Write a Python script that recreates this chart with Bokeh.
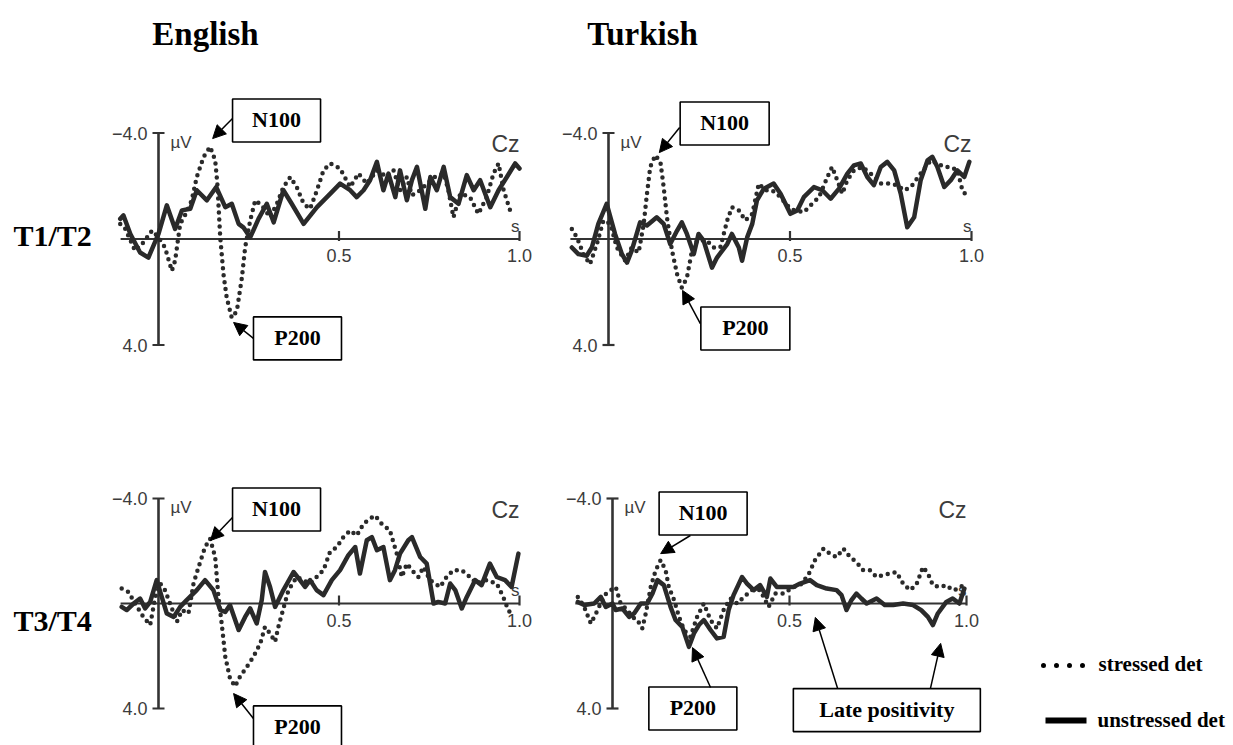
from bokeh.plotting import figure
from bokeh.models import Range1d, Arrow, NormalHead
from bokeh.core.properties import value
from bokeh.embed import file_html
from bokeh.resources import INLINE

# ---------------- data: time in ms, amplitude in microvolts (negative up) ----------------
en12_stressed_t = [-106, -92, -65, -42, -18, 0, 18, 37, 46, 60, 78, 92, 106, 125, 143, 157, 163, 171, 180, 189,
                   203, 217, 231, 240, 254, 268, 286, 309, 328, 346, 365, 383, 402, 420, 439, 457, 476, 503, 531, 554,
                   577, 605, 633, 651, 669, 688, 702, 725, 743, 766, 790, 803, 817, 836, 863, 886, 909, 928, 942, 956,
                   974, 988]
en12_stressed_v = [-0.57, -0.38, 0.44, 0.13, -0.32, -0.06, 0.32, 1.20, 0.82, -0.57, -1.01, -1.46, -2.34, -3.10, -3.48,
                   -2.97, -2.09, -0.06, 1.33, 2.22, 2.97, 2.72, 1.46, 0.32, -0.70, -1.46, -1.27, -0.82, -1.33, -1.96,
                   -2.34, -1.96, -1.33, -1.14, -1.84, -2.59, -2.85, -2.66, -1.96, -2.47, -2.09, -2.59, -2.34, -2.59,
                   -1.84, -2.34, -1.65, -1.84, -2.09, -2.34, -2.47, -1.84, -0.82, -1.71, -1.58, -0.95, -1.58, -2.47,
                   -2.85, -1.84, -1.08, -1.20]
en12_unstressed_t = [-106, -97, -78, -51, -28, 0, 23, 46, 65, 88, 106, 134, 160, 185, 203, 222, 235, 254, 277, 300,
                     319, 346, 369, 402, 439, 476, 503, 531, 549, 568, 586, 605, 623, 637, 656, 669, 688, 702, 716, 739,
                     753, 771, 790, 808, 831, 854, 873, 891, 919, 942, 965, 988, 1000]
en12_unstressed_v = [-0.76, -0.89, -0.19, 0.51, 0.70, -0.19, -1.27, -0.38, -1.08, -1.14, -1.84, -1.46, -1.96, -1.20,
                     -1.33, -0.57, -0.44, -0.06, -0.76, -1.33, -0.63, -1.84, -1.33, -0.57, -1.20, -1.71, -2.09, -1.84,
                     -1.58, -1.84, -2.22, -2.91, -1.84, -2.47, -1.58, -2.59, -1.46, -2.22, -2.72, -1.14, -2.34, -1.84,
                     -2.72, -1.58, -1.33, -2.41, -1.84, -2.22, -1.20, -1.84, -2.34, -2.85, -2.66]

tr12_stressed_t = [-101, -87, -69, -51, -32, -14, 5, 23, 46, 64, 83, 97, 106, 115, 129, 143, 152, 161, 175, 189,
                   202, 216, 230, 244, 271, 290, 308, 327, 340, 359, 377, 396, 414, 432, 451, 474, 492, 511, 538, 561,
                   580, 603, 616, 630, 644, 658, 676, 699, 722, 750, 777, 796, 814, 833, 860, 888, 906, 925, 943, 961,
                   975, 989]
tr12_stressed_v = [-0.38, -0.06, 0.57, 0.95, 0.19, -0.70, -0.57, 0.32, 0.82, 0.32, 0.51, -0.57, -1.71, -2.72, -3.16,
                   -2.91, -1.96, -0.82, 0.44, 1.33, 1.84, 1.46, 0.44, 0.06, 0.06, 0.32, 0.32, -0.70, -1.20, -1.08,
                   -0.70, -0.95, -2.09, -1.84, -1.84, -1.58, -1.27, -1.08, -1.01, -1.33, -1.58, -2.34, -2.72, -2.22,
                   -1.71, -2.22, -2.59, -2.72, -2.47, -2.09, -2.09, -2.03, -1.84, -1.96, -2.47, -2.97, -2.85, -2.72,
                   -2.72, -2.59, -1.84, -1.58]
tr12_unstressed_t = [-101, -83, -60, -46, -28, -5, 18, 37, 51, 64, 87, 106, 133, 152, 170, 189, 202, 216, 235, 248,
                     262, 285, 299, 327, 340, 359, 368, 382, 396, 409, 428, 455, 474, 501, 520, 538, 566, 589, 612, 635,
                     658, 676, 695, 713, 731, 750, 768, 787, 805, 823, 842, 860, 879, 892, 906, 925, 943, 961, 980, 994]
tr12_unstressed_v = [0.32, 0.57, 0.63, 0.32, -0.57, -1.33, -0.19, 0.57, 0.89, 0.44, -0.63, -0.51, -0.82, -0.57, 0.19,
                     -0.32, -0.63, -0.19, 0.57, -0.19, 0.06, 1.08, 0.70, 0.19, -0.19, 0.32, 0.82, -0.06, -0.57, -1.46,
                     -1.90, -2.09, -1.71, -0.95, -1.08, -1.58, -1.96, -1.84, -1.52, -1.90, -2.47, -2.78, -2.85, -2.34,
                     -2.03, -2.72, -2.91, -2.59, -1.71, -0.44, -0.82, -2.22, -2.97, -3.10, -2.72, -1.96, -2.22, -2.59,
                     -2.34, -2.91]

en34_stressed_t = [-102, -83, -65, -42, -23, -9, 5, 18, 32, 51, 65, 83, 97, 111, 129, 143, 157, 166, 175, 185,
                   198, 212, 226, 245, 263, 282, 295, 309, 323, 332, 346, 360, 383, 420, 457, 475, 494, 512, 531, 549,
                   568, 586, 600, 618, 641, 660, 674, 688, 702, 720, 734, 752, 780, 798, 817, 840, 863, 881, 909, 937,
                   955, 969, 983]
en34_stressed_v = [-0.57, -0.44, 0.0, 0.51, 0.82, -0.25, -0.76, -0.51, 0.0, 0.70, 0.25, 0.38, -0.76, -1.39, -2.15,
                   -2.47, -1.77, -0.25, 0.76, 2.03, 2.85, 3.16, 2.78, 2.41, 2.03, 1.52, 0.89, 1.14, 1.46, 0.89,
                   0.19, -0.51, -1.01, -0.76, -1.27, -1.96, -2.15, -2.53, -2.78, -2.59, -3.04, -3.23, -3.35, -3.04,
                   -2.78, -1.90, -1.01, -1.52, -1.27, -1.01, -1.39, -0.89, -0.63, -1.01, -1.27, -1.27, -1.01, -0.76,
                   -0.89, -0.76, -0.25, 0.25, 0.51]
en34_unstressed_t = [-102, -88, -69, -51, -37, -23, -5, 9, 23, 42, 60, 78, 106, 129, 152, 171, 185, 198, 222, 240,
                     254, 272, 286, 295, 309, 323, 346, 374, 392, 406, 420, 438, 457, 480, 503, 526, 545, 558, 577, 591,
                     605, 623, 641, 655, 669, 692, 702, 725, 743, 762, 775, 794, 808, 822, 840, 854, 877, 895, 918, 937,
                     960, 978, 997]
en34_unstressed_v = [0.13, 0.25, 0.0, -0.19, 0.19, -0.06, -0.89, -0.25, 0.38, 0.51, 0.13, -0.13, -0.51, -0.89, -0.51,
                     0.25, 0.32, 0.06, 1.01, 0.51, 0.19, 0.76, -0.13, -1.20, -0.63, 0.13, -0.51, -1.20, -0.89, -0.63,
                     -0.89, -0.51, -0.32, -0.89, -1.27, -1.84, -2.15, -1.14, -2.41, -2.53, -2.03, -2.15, -0.89, -1.27,
                     -1.90, -2.41, -2.53, -1.77, -1.52, 0.0, -0.06, 0.0, -0.76, -0.51, 0.19, -0.25, -0.89, -0.70,
                     -1.52, -1.01, -0.89, -0.63, -1.90]

tr34_stressed_t = [-98, -80, -61, -42, -23, -5, 9, 23, 42, 56, 70, 84, 94, 108, 122, 136, 150, 159, 174, 188,
                   202, 220, 239, 258, 277, 295, 314, 333, 352, 371, 394, 417, 441, 460, 483, 511, 530, 553, 572, 596,
                   614, 633, 652, 671, 689, 708, 727, 746, 764, 783, 802, 821, 840, 858, 877, 891, 905, 924, 943, 961,
                   980, 994]
tr34_stressed_v = [-0.25, 0.13, 0.76, 0.25, -0.32, -0.51, -0.63, 0.0, 0.25, 0.51, 0.63, 0.95, 0.38, -0.63, -1.27,
                   -1.65, -1.27, -0.63, -0.13, 0.51, 1.01, 1.27, 0.51, 0.0, 0.63, 0.95, 0.25, -0.19, 0.0, -0.25,
                   -0.51, -0.51, 0.13, -0.38, -0.38, -0.63, -0.70, -1.08, -1.65, -2.09, -1.90, -1.77, -2.09, -1.77,
                   -1.58, -1.27, -1.27, -1.01, -1.08, -1.14, -1.20, -0.76, -0.51, -0.70, -1.39, -1.14, -0.70, -0.63,
                   -0.70, -0.51, -0.57, -0.76]
tr34_unstressed_t = [-98, -80, -52, -33, -19, 0, 9, 28, 47, 61, 80, 98, 113, 127, 145, 164, 178, 197, 216, 230,
                     244, 258, 277, 295, 314, 328, 342, 366, 380, 399, 417, 436, 446, 464, 483, 511, 530, 558, 577, 605,
                     633, 647, 661, 675, 689, 703, 718, 746, 769, 793, 821, 849, 872, 891, 905, 919, 943, 961, 980, 994]
tr34_unstressed_v = [-0.06, 0.06, 0.0, -0.25, 0.13, 0.0, 0.25, 0.19, 0.51, 0.38, 0.0, 0.0, -0.38, -0.89, -0.70,
                     0.13, 0.63, 0.89, 1.65, 1.14, 0.82, 0.63, 1.01, 1.33, 1.27, 0.25, -0.32, -1.01, -0.76, -0.51,
                     -0.70, -0.25, -0.95, -0.63, -0.63, -0.63, -0.76, -0.89, -0.70, -0.57, -0.51, -0.32, 0.25, -0.13,
                     -0.38, -0.19, 0.0, -0.19, 0.06, 0.06, 0.0, 0.06, 0.25, 0.51, 0.82, 0.38, -0.06, -0.19, 0.0, -0.57]

column_titles = ["English", "Turkish"]
row_titles = ["T1/T2", "T3/T4"]
y_ticks = [-4.0, 4.0]
y_tick_labels = ["\u22124.0", "4.0"]
x_ticks = [500, 1000]
x_tick_labels = ["0.5", "1.0"]
x_axis_extent = [-105, 1000]
series_labels = ["stressed det", "unstressed det"]

# annotations: label, box centre (ms, uV), box width px, list of (tail, tip) arrows
annotations = {
    "en12": [("N100", (327, -4.47), 88, [((205, -4.55), (150, -3.79))]),
             ("P200", (385, 3.75), 88, [((263, 3.75), (208, 3.15))])],
    "tr12": [("N100", (320, -4.36), 89, [((196, -4.21), (140, -3.26))]),
             ("P200", (377, 3.38), 89, [((253, 3.19), (204, 1.94))])],
    "en34": [("N100", (327, -3.58), 88, [((205, -3.28), (144, -2.40))]),
             ("P200", (385, 4.72), 88, [((263, 4.38), (208, 3.43))])],
    "tr34": [("N100", (256, -3.43), 88, [((220, -2.59), (136, -1.90))]),
             ("P200", (227, 4.00), 88, [((277, 3.20), (226, 1.68))]),
             ("Late positivity", (775, 4.06), 187, [((636, 3.24), (573, 0.53)), ((898, 3.24), (927, 1.52))])],
}

curves = {
    "en12": (en12_stressed_t, en12_stressed_v, en12_unstressed_t, en12_unstressed_v),
    "tr12": (tr12_stressed_t, tr12_stressed_v, tr12_unstressed_t, tr12_unstressed_v),
    "en34": (en34_stressed_t, en34_stressed_v, en34_unstressed_t, en34_unstressed_v),
    "tr34": (tr34_stressed_t, tr34_stressed_v, tr34_unstressed_t, tr34_unstressed_v),
}

# ---------------- layout (page pixels) ----------------
W, H, OFF = 1233, 745, 0
GEOM = {  # origin pixel of (0 ms, 0 uV), px per ms, px per uV
    "en12": dict(x0=158, sx=0.361, y0=238.5, sy=26.5),
    "tr12": dict(x0=608, sx=0.363, y0=238.5, sy=26.5),
    "en34": dict(x0=158, sx=0.361, y0=603, sy=26.25),
    "tr34": dict(x0=612, sx=0.354, y0=603, sy=26.25),
}
CURVE = "#2a2a2a"
AXC = "#333333"
TXT = "#3c3c3c"
SERIF = value("Liberation Serif")
SANS = value("Liberation Sans")

p = figure(width=W, height=H, x_range=Range1d(OFF, OFF + W), y_range=Range1d(OFF + H, OFF),
           x_axis_type=None, y_axis_type=None, output_backend="svg", toolbar_location=None,
           min_border=0)
p.outline_line_color = None
p.background_fill_color = "white"

for k, g in GEOM.items():
    p.extra_x_ranges[k] = Range1d((OFF - g["x0"]) / g["sx"], (OFF + W - g["x0"]) / g["sx"])
    p.extra_y_ranges[k] = Range1d((OFF + H - g["y0"]) / g["sy"], (OFF - g["y0"]) / g["sy"])
    kw = dict(x_range_name=k, y_range_name=k)

    # axes
    p.line(x_axis_extent, [0, 0], line_width=2.2, color=AXC, **kw)
    p.line([0, 0], y_ticks, line_width=2.6, color=AXC, **kw)
    for yt in y_ticks:
        p.segment(-6 / g["sx"], yt, 6 / g["sx"], yt, line_width=2.2, color=AXC, **kw)
    for xt in x_ticks:
        p.segment(xt, 2 / g["sy"], xt, -8 / g["sy"], line_width=2.2, color=AXC, **kw)

    p.text(x=[0, 0], y=y_ticks, text=y_tick_labels, x_offset=-11, text_align="right",
           text_baseline="middle", text_font=SANS, text_font_size="18px", text_color=TXT, **kw)
    p.text(x=x_ticks, y=[0, 0], text=x_tick_labels, y_offset=10, text_align="center",
           text_baseline="top", text_font=SANS, text_font_size="18px", text_color=TXT, **kw)
    p.text(x=[0], y=[y_ticks[0]], text=["\u00b5V"], x_offset=12, y_offset=9, text_align="left",
           text_baseline="middle", text_font=SANS, text_font_size="17px", text_color=TXT, **kw)
    p.text(x=[x_ticks[-1]], y=[y_ticks[0]], text=["Cz"], y_offset=11, text_align="right",
           text_baseline="middle", text_font=SANS, text_font_size="23px", text_color=TXT, **kw)
    p.text(x=[x_ticks[-1]], y=[0], text=["s"], y_offset=-13, text_align="right",
           text_baseline="alphabetic", text_font=SANS, text_font_size="17px", text_color=TXT, **kw)

    st, sv, ut, uv = curves[k]
    p.line(ut, uv, line_width=4.5, line_join="round", line_cap="round", color=CURVE, **kw)
    p.line(st, sv, line_width=4.5, line_dash="0 7", line_cap="round", line_join="round",
           color=CURVE, **kw)

    for label, (bx, bv), bw, arrows in annotations[k]:
        p.rect(x=[bx], y=[bv], width=bw, height=43, width_units="screen", height_units="screen",
               fill_color="white", line_color="black", line_width=1.6, **kw)
        p.text(x=[bx], y=[bv], text=[label], y_offset=-1, text_align="center", text_baseline="middle",
               text_font=SERIF, text_font_style="bold", text_font_size="22px", text_color="black", **kw)
        for (t0, v0), (t1, v1) in arrows:
            p.add_layout(Arrow(end=NormalHead(size=13, fill_color="black", line_color="black", line_width=1),
                               x_start=t0, y_start=v0, x_end=t1, y_end=v1,
                               line_color="black", line_width=1.5, **kw))

# column / row titles (page pixels)
p.text(x=[205, 642], y=[33, 33], text=column_titles, text_align="center", text_baseline="alphabetic",
       text_font=SERIF, text_font_style="bold", text_font_size="33px", text_color="black")
p.text(x=[13, 13], y=[235, 620], text=row_titles, text_align="left", text_baseline="alphabetic",
       text_font=SERIF, text_font_style="bold", text_font_size="30px", text_color="black")

# legend (page pixels)
p.line([1043, 1085], [665, 665], line_width=5, line_dash="0 13", line_cap="round", color="black")
p.line([1045, 1086], [720, 720], line_width=6, color="black")
p.text(x=[1098, 1097], y=[663, 719], text=series_labels, text_align="left", text_baseline="middle",
       text_font=SERIF, text_font_style="bold", text_font_size="21px", text_color="black")

open("out.html", "w").write(file_html(p, INLINE))
